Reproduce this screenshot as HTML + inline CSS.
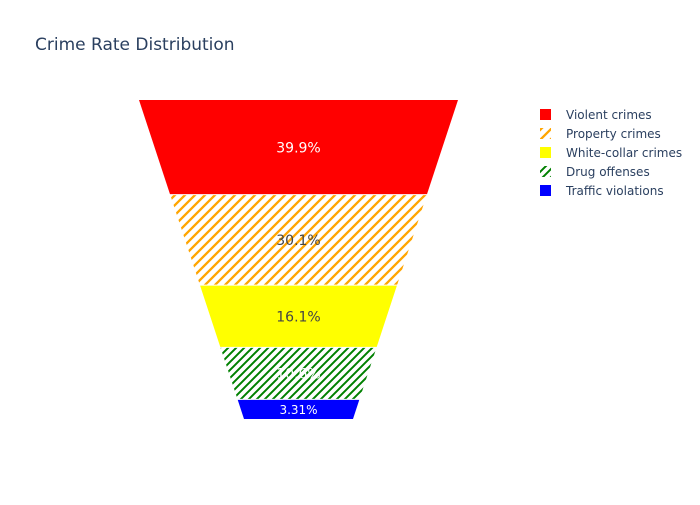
<!DOCTYPE html>
<html><head><meta charset="utf-8"><style>
body{margin:0;background:#fff;font-family:"Liberation Sans","DejaVu Sans",sans-serif}
svg text{font-family:"DejaVu Sans","Liberation Sans",sans-serif}
</style></head><body>
<svg id="c" width="700" height="500">
<defs>
<pattern id="pOrange" width="10" height="10" patternUnits="userSpaceOnUse">
<rect width="10" height="10" fill="#fff"/>
<path d="M-2,2 L2,-2 M0,10 L10,0 M8,12 L12,8" stroke="orange" stroke-width="2.3"/>
</pattern>
<pattern id="pGreen" width="8" height="8" patternUnits="userSpaceOnUse">
<rect width="8" height="8" fill="#fff"/>
<path d="M-2,2 L2,-2 M0,8 L8,0 M6,10 L10,6" stroke="green" stroke-width="2"/>
</pattern>
</defs>
<text x="35" y="50" font-size="17" fill="#2a3f5f">Crime Rate Distribution</text>
<g id="funnel"></g>
<g id="legend"></g>
</svg>
<script>
const categories=["Violent crimes","Property crimes","White-collar crimes","Drug offenses","Traffic violations"];
const values=[39.9,30.1,16.1,10.6,3.31];
const fills=["red","url(#pOrange)","yellow","url(#pGreen)","blue"];
const textColors=["#fff","#444","#444","#fff","#fff"];
const NS="http://www.w3.org/2000/svg";
const cx=298.5,yTop=100,yBot=419,hwTop=159.5,hwBot=54.5;
const slope=(hwTop-hwBot)/(yBot-yTop);
const apex=yTop+hwTop/slope;
const A0=(apex-yTop)**2,A1=(apex-yBot)**2;
const total=values.reduce((a,b)=>a+b,0);
function yAt(frac){return apex-Math.sqrt(A0-frac*(A0-A1));}
function hw(y){return (apex-y)*slope;}
const g=document.getElementById('funnel');
let cum=0;
values.forEach((v,i)=>{
  const y0=yAt(cum/total);cum+=v;const y1=yAt(cum/total);
  const a=y0+(i?0.5:0),b=y1-(i<values.length-1?0.5:0);
  const p=document.createElementNS(NS,'polygon');
  p.setAttribute('points',`${cx-hw(a)},${a} ${cx+hw(a)},${a} ${cx+hw(b)},${b} ${cx-hw(b)},${b}`);
  p.setAttribute('fill',fills[i]);
  
  
  g.appendChild(p);
  const t=document.createElementNS(NS,'text');
  const pct=(v/total*100);
  t.textContent=(pct<10?pct.toPrecision(3):pct.toFixed(1))+'%';
  t.setAttribute('x',cx);t.setAttribute('y',(y0+y1)/2+5);
  t.setAttribute('text-anchor','middle');
  t.setAttribute('font-size',(y1-y0)<25?12:14);
  t.setAttribute('fill',textColors[i]);
  
  
  g.appendChild(t);
});
const lg=document.getElementById('legend');
categories.forEach((c,i)=>{
  const y=115+i*19;
  const r=document.createElementNS(NS,'rect');
  r.setAttribute('x',540);r.setAttribute('y',y-6);r.setAttribute('width',11);r.setAttribute('height',11);
  r.setAttribute('fill',fills[i]);
  
  
  lg.appendChild(r);
  const t=document.createElementNS(NS,'text');
  t.textContent=c;t.setAttribute('x',566);t.setAttribute('y',y+4);
  t.setAttribute('font-size',12);t.setAttribute('fill','#2a3f5f');
  
  
  lg.appendChild(t);
});
</script>
</body></html>
